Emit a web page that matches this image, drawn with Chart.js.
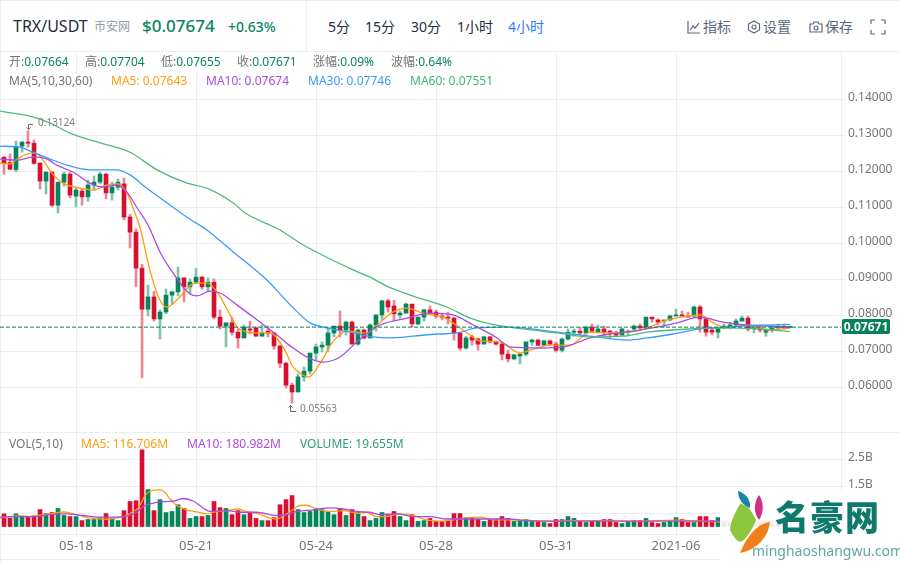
<!DOCTYPE html>
<html lang="zh">
<head>
<meta charset="utf-8">
<title>TRX/USDT</title>
<script src="https://cdn.jsdelivr.net/npm/chart.js@4/dist/chart.umd.js"></script>
<style>
    html, body { margin: 0; padding: 0; background: #fff; }
    body { width: 900px; height: 564px; position: relative; overflow: hidden; font-family: 'Noto Sans', 'Noto Sans CJK SC', sans-serif; font-size: 12px; }
    canvas { position: absolute; left: 0; z-index: 1; }
    .t { position: absolute; white-space: nowrap; line-height: 18px; height: 18px; z-index: 2; }
    .line { position: absolute; background: #ebeef4; }
    .gray { color: #757575; }
    .up { color: #0a8560; }
    .btn { font-size: 14px; color: #232f3e; top: 18px; }
    .tool { font-size: 14px; color: #5a6780; top: 18px; }
    svg.icon { position: absolute; z-index: 2; fill: none; stroke: #5a6780; stroke-width: 1.2; }
    #lastTag { position: absolute; left: 842px; top: 319px; width: 48px; height: 15px; line-height: 15px; background: #04805a; color: #fff; font-weight: 700; font-size: 12px; text-align: center; border-radius: 2px; z-index: 3; }
    #mark { position: absolute; left: 720px; top: 490px; width: 180px; height: 74px; background: rgba(255, 255, 255, 0.88); z-index: 4; }
    #mark .name { position: absolute; left: 55px; top: 6px; font-family: 'Noto Sans CJK SC', sans-serif; font-weight: 900; font-size: 34px; line-height: 40px; color: #0f7a6c; letter-spacing: 1px; }
    #mark .site { position: absolute; left: 32px; top: 52px; font-size: 14px; line-height: 18px; color: #5ea79f; }
</style>
</head>
<body>
<div class="line" style="left:0;top:0;width:900px;height:1px"></div>
<div class="line" style="left:0;top:0;width:1px;height:564px"></div>
<div class="line" style="left:306px;top:0;width:1px;height:51px"></div>
<div class="line" style="left:0;top:51px;width:900px;height:1px"></div>
<div class="line" style="left:0;top:432px;width:900px;height:1px"></div>
<div class="line" style="left:0;top:534px;width:842px;height:1px"></div>
<div class="line" style="left:0;top:559px;width:900px;height:1px"></div>

<!-- header -->
<span class="t" style="left:13px;top:17px;font-size:16px;color:#1f2d3d">TRX/USDT</span>
<span class="t" style="left:94px;top:18px;color:#8f9bab">币安网</span>
<span class="t" style="left:142px;top:17px;font-size:17px;font-weight:500;color:#0a8560">$0.07674</span>
<span class="t" style="left:228px;top:18px;font-size:14px;font-weight:500;color:#0a8560">+0.63%</span>
<span class="t btn" style="left:328px">5分</span>
<span class="t btn" style="left:365px">15分</span>
<span class="t btn" style="left:411px">30分</span>
<span class="t btn" style="left:457px">1小时</span>
<span class="t btn" style="left:508px;color:#2f7df6">4小时</span>
<svg class="icon" style="left:687px;top:20px" width="14" height="14"><path d="M1 1V13H13M3 10L6 6L8 8L12 3"/></svg>
<span class="t tool" style="left:703px">指标</span>
<svg class="icon" style="left:747px;top:20px" width="14" height="14"><path d="M7 1L12.5 4V10L7 13L1.5 10V4Z"/><circle cx="7" cy="7" r="2"/></svg>
<span class="t tool" style="left:763px">设置</span>
<svg class="icon" style="left:809px;top:20px" width="14" height="14"><path d="M1 4H4L5 2H9L10 4H13V12H1Z"/><circle cx="7" cy="8" r="2"/></svg>
<span class="t tool" style="left:825px">保存</span>
<svg class="icon" style="left:870px;top:19px" width="16" height="16"><path d="M1 5V1H5M11 1H15V5M15 11V15H11M5 15H1V11"/></svg>

<!-- info rows -->
<span class="t" style="left:9px;top:53px"><span class="gray">开:</span><span class="up">0.07664</span></span>
<span class="t" style="left:85px;top:53px"><span class="gray">高:</span><span class="up">0.07704</span></span>
<span class="t" style="left:161px;top:53px"><span class="gray">低:</span><span class="up">0.07655</span></span>
<span class="t" style="left:237px;top:53px"><span class="gray">收:</span><span class="up">0.07671</span></span>
<span class="t" style="left:313px;top:53px"><span class="gray">涨幅:</span><span class="up">0.09%</span></span>
<span class="t" style="left:391px;top:53px"><span class="gray">波幅:</span><span class="up">0.64%</span></span>
<span class="t gray" style="left:9px;top:72px">MA(5,10,30,60)</span>
<span class="t" style="left:111px;top:72px;color:#ff9b0f">MA5: 0.07643</span>
<span class="t" style="left:206px;top:72px;color:#a84be0">MA10: 0.07674</span>
<span class="t" style="left:308px;top:72px;color:#3a9bff">MA30: 0.07746</span>
<span class="t" style="left:410px;top:72px;color:#3fb871">MA60: 0.07551</span>
<span class="t gray" style="left:9px;top:435px">VOL(5,10)</span>
<span class="t" style="left:81px;top:435px;color:#ff9b0f">MA5: 116.706M</span>
<span class="t" style="left:187px;top:435px;color:#a84be0">MA10: 180.982M</span>
<span class="t" style="left:300px;top:435px;color:#2f9c78">VOLUME: 19.655M</span>

<div id="lastTag">0.07671</div>

<canvas id="priceChart" width="900" height="381" style="top:51px"></canvas>
<canvas id="volumeChart" width="900" height="126" style="top:433px"></canvas>

<!-- site watermark -->
<div id="mark">
    <svg width="60" height="70" style="position:absolute;left:6px;top:0">
        <path d="M14 14C8 24 4 34 4 40C8 48 10 50 14 52C20 50 26 40 30 30C26 22 22 14 14 14Z" fill="#8cc63f"/>
        <path d="M12 1C20 3 25 10 24 18C18 16 12 10 12 1Z" fill="#1d83a8"/>
        <path d="M33 5C38 12 38 22 33 30C27 22 28 12 33 5Z" fill="#d42d86"/>
        <path d="M44 32C30 34 20 48 14 63C30 60 42 48 44 32Z" fill="#ef7f1a"/>
    </svg>
    <span class="name">名豪网</span>
    <span class="site">minghaoshangwu.com</span>
</div>

<script>
// Candles, 4 hour bars, oldest first
const open = [
    .1239, .1224, .1205, .1270, .1281, .1278, .1223, .1173, .1198, .1106,
    .1170, .1192, .1131, .1145, .1129, .1162, .1170, .1192, .1140, .1156,
    .1165, .1073, .1031, .0931, .0817, .0851, .0790, .0809, .0856, .0865,
    .0904, .0879, .0892, .0906, .0879, .0892, .0795, .0770, .0779, .0753,
    .0737, .0762, .0765, .0742, .0756, .0751, .0715, .0667, .0606, .0587,
    .0629, .0645, .0695, .0712, .0717, .0751, .0770, .0759, .0781, .0720,
    .0759, .0737, .0773, .0801, .0840, .0826, .0801, .0806, .0831, .0776,
    .0795, .0815, .0809, .0798, .0795, .0792, .0751, .0709, .0740, .0734,
    .0720, .0740, .0726, .0720, .0692, .0679, .0687, .0692, .0726, .0731,
    .0717, .0729, .0720, .0703, .0734, .0753, .0756, .0751, .0767, .0753,
    .0762, .0756, .0751, .0745, .0753, .0762, .0770, .0765, .0795, .0787,
    .0784, .0787, .0798, .0801, .0798, .0798, .0823, .0790, .0759, .0753,
    .0765, .0770, .0773, .0784, .0792, .0762, .0765, .0753, .0759, .0765,
    .0767, .07664
];
const close = [
    .1224, .1206, .1267, .1281, .1278, .1222, .1173, .1198, .1106, .1170,
    .1192, .1134, .1148, .1129, .1162, .1170, .1192, .1140, .1156, .1170,
    .1073, .1031, .0931, .0817, .0851, .0790, .0809, .0856, .0865, .0904,
    .0879, .0892, .0906, .0879, .0892, .0795, .0770, .0779, .0753, .0737,
    .0767, .0759, .0742, .0751, .0751, .0715, .0667, .0606, .0587, .0629,
    .0645, .0695, .0712, .0717, .0751, .0770, .0759, .0781, .0720, .0759,
    .0737, .0773, .0801, .0840, .0823, .0804, .0806, .0831, .0776, .0795,
    .0815, .0806, .0798, .0795, .0792, .0751, .0709, .0737, .0731, .0720,
    .0740, .0726, .0720, .0692, .0679, .0690, .0692, .0726, .0731, .0717,
    .0729, .0720, .0703, .0734, .0753, .0756, .0751, .0767, .0756, .0762,
    .0753, .0751, .0745, .0762, .0756, .0770, .0765, .0795, .0790, .0781,
    .0787, .0798, .0801, .0798, .0795, .0823, .0790, .0753, .0753, .0765,
    .0770, .0773, .0784, .0792, .0762, .0765, .0759, .0759, .0765, .0767,
    .0766, .07671
];
const high = [
    .1241, .1248, .1284, .1283, .13124, .1287, .1223, .1198, .1198, .1170,
    .1198, .1198, .1153, .1153, .1176, .1187, .1198, .1195, .1170, .1179,
    .1181, .1081, .1040, .0942, .0884, .0867, .0815, .0873, .0867, .0934,
    .0904, .0901, .0931, .0909, .0904, .0901, .0815, .0779, .0795, .0762,
    .0773, .0784, .0767, .0773, .0770, .0753, .0715, .0670, .0612, .0637,
    .0656, .0695, .0720, .0726, .0767, .0770, .0812, .0784, .0784, .0762,
    .0762, .0776, .0801, .0842, .0845, .0842, .0812, .0834, .0831, .0795,
    .0817, .0826, .0815, .0806, .0809, .0795, .0751, .0742, .0745, .0737,
    .0742, .0742, .0729, .0723, .0703, .0692, .0695, .0726, .0734, .0734,
    .0731, .0731, .0726, .0737, .0762, .0762, .0767, .0770, .0776, .0773,
    .0770, .0759, .0756, .0765, .0759, .0773, .0776, .0795, .0795, .0790,
    .0787, .0801, .0817, .0812, .0809, .0826, .0828, .0790, .0765, .0765,
    .0776, .0781, .0790, .0798, .0798, .0770, .0773, .0762, .0767, .0776,
    .0776, .07704
];
const low = [
    .1192, .1204, .1198, .1253, .1267, .1220, .1151, .1137, .1101, .1084,
    .1159, .1126, .1101, .1106, .1117, .1148, .1165, .1123, .1120, .1148,
    .1065, .0987, .0879, .0626, .0798, .0784, .0734, .0804, .0831, .0854,
    .0837, .0859, .0892, .0873, .0867, .0790, .0762, .0712, .0745, .0709,
    .0737, .0748, .0742, .0742, .0740, .0706, .0654, .0598, .05563, .0587,
    .0617, .0637, .0676, .0698, .0698, .0740, .0740, .0745, .0720, .0717,
    .0734, .0737, .0756, .0787, .0809, .0787, .0792, .0806, .0767, .0773,
    .0784, .0804, .0792, .0787, .0776, .0731, .0703, .0706, .0717, .0703,
    .0720, .0723, .0717, .0676, .0670, .0676, .0665, .0687, .0717, .0715,
    .0715, .0717, .0698, .0698, .0731, .0742, .0745, .0748, .0753, .0751,
    .0745, .0737, .0742, .0745, .0745, .0759, .0759, .0762, .0781, .0773,
    .0767, .0784, .0798, .0798, .0795, .0795, .0753, .0742, .0745, .0737,
    .0762, .0762, .0770, .0784, .0756, .0751, .0753, .0742, .0753, .0762,
    .0762, .07655
];
// Volume in billions
const volume = [
    .47, .31, .47, .36, .36, .40, .63, .48, .52, .67,
    .41, .37, .37, .22, .26, .26, .33, .48, .31, .22,
    .59, .93, .96, 2.85, 1.37, .59, 1.0, .52, .56, .81,
    .67, .30, .37, .37, .41, .93, .70, .67, .44, .59,
    .44, .52, .30, .22, .22, .33, .81, 1.0, 1.15, .63,
    .52, .56, .67, .63, .56, .44, .67, .41, .63, .52,
    .37, .22, .30, .52, .41, .56, .37, .22, .44, .19,
    .22, .30, .19, .19, .22, .48, .48, .33, .30, .26,
    .19, .26, .26, .37, .30, .19, .22, .26, .19, .19,
    .15, .11, .26, .26, .37, .30, .19, .15, .22, .22,
    .26, .26, .15, .11, .19, .22, .22, .30, .15, .11,
    .15, .19, .33, .26, .15, .15, .37, .37, .22, .33,
    .19, .15, .19, .15, .22, .15, .15, .19, .11, .15,
    .10, .02
];

// Moving averages: candle number and value
const ma5At = [-.67, 1, 2.2, 3.8, 5.2, 6.5, 8.2, 9.8, 12.7, 14.8, 17.2, 19, 20.5, 21.5, 22.7, 24.3, 26, 27.2, 29.3, 31.5, 33.8, 35.5, 37.7, 39, 42.2, 44.3, 46.5, 48.2, 49.3, 50.7, 52.7, 54.8, 57.2, 60.5, 62.7, 64.8, 67.2, 69.8, 73.2, 74.8, 77.2, 79.3, 82.7, 86, 87.7, 91, 94.3, 97.7, 101, 104.3, 107.2, 110.5, 114.3, 116, 118.2, 120.5, 123.8, 127.7, 131];
const ma5 = [.1223, .1220, .1234, .1248, .1251, .1231, .1190, .1167, .1153, .1148, .1162, .1165, .1140, .1098, .1042, .0926, .0842, .0823, .0851, .0887, .0890, .0865, .0801, .0765, .0751, .0751, .0712, .0656, .0640, .0628, .0667, .0726, .0756, .0751, .0781, .0809, .0820, .0806, .0795, .0779, .0751, .0729, .0726, .0695, .0703, .0717, .0717, .0753, .0751, .0753, .0765, .0787, .0798, .0801, .0779, .0765, .0773, .0759, .07643];
const ma10At = [-.67, 2.2, 4.8, 7.2, 8.8, 11.5, 14.3, 16.5, 18.8, 20.5, 22.2, 24, 26, 28.2, 31, 32.2, 34.3, 36, 38.8, 42.2, 45.5, 47.7, 50.5, 53.2, 56, 58.8, 62.7, 67.2, 71, 74.8, 78.2, 82.2, 84.3, 89.3, 93.2, 97.7, 101, 104.8, 108.8, 112.2, 116, 119.8, 123.8, 131];
const ma10 = [.1234, .1231, .1240, .1234, .1217, .1198, .1167, .1156, .1162, .1142, .1098, .1051, .0976, .0917, .0859, .0854, .0867, .0862, .0829, .0787, .0745, .0715, .0684, .0670, .0684, .0726, .0773, .0792, .0806, .0801, .0773, .0737, .0712, .0709, .0712, .0737, .0748, .0756, .0767, .0779, .0795, .0781, .0773, .07674];
const ma30At = [-.67, 2.67, 4.8, 7.7, 10.5, 14.3, 18.8, 21, 23.8, 27.2, 31, 33.8, 38.2, 43.8, 47.7, 51, 53.2, 57.7, 61.5, 64.3, 68.2, 72.2, 75.5, 78.8, 83.2, 86.5, 92.2, 97.7, 103.8, 107.2, 111.5, 116, 118.8, 122.7, 131];
const ma30 = [.1270, .1267, .1253, .1234, .1217, .1204, .1204, .1190, .1153, .1112, .1067, .1037, .0976, .0898, .0829, .0779, .0767, .0753, .0740, .0737, .0742, .0748, .0751, .0765, .0767, .0765, .0753, .0742, .0731, .0737, .0748, .0762, .0765, .0770, .07746];
const ma60At = [-.67, 4.8, 7.7, 11, 16, 21, 25.5, 30.5, 33.8, 38.2, 40.2, 46, 49.3, 58.2, 61, 63.8, 67.7, 73.8, 77.7, 81, 86.5, 92.2, 97.7, 103.2, 107.2, 114.3, 119.8, 125.5, 131];
const ma60 = [.1367, .1351, .1334, .1306, .1279, .1253, .1204, .1167, .1153, .1112, .1084, .1037, .1001, .0926, .0906, .0881, .0856, .0823, .0792, .0776, .0762, .0751, .0740, .0742, .0753, .0762, .0765, .0762, .07551];

const volMa5At = [-.67, 1, 2.67, 4.33, 6, 7.67, 9.9, 11.6, 13.2, 14.9, 17.1, 18.8, 20, 21.3, 22.4, 23.5, 24.3, 26, 26.8, 27.7, 28.8, 30.4, 32.1, 33.8, 34.9, 37.1, 39.1, 40.2, 42.1, 44.3, 45.4, 47.1, 48.5, 49.3, 50.4, 52.1, 54.3, 56.6, 58.8, 60.4, 62.1, 63.8, 66, 68.2, 70.4, 72.7, 74.9, 77.1, 79.3, 81.6, 84.9, 88.2, 91.6, 94.9, 99.3, 105, 112, 118, 125, 131];
const volMa5 = [.32, .37, .40, .37, .42, .47, .54, .47, .37, .30, .27, .32, .37, .53, .69, 1.15, 1.31, 1.36, 1.27, 1.02, .78, .62, .54, .47, .53, .59, .65, .56, .49, .31, .28, .47, .69, .78, .79, .65, .56, .59, .49, .53, .37, .37, .47, .41, .25, .20, .25, .33, .35, .25, .25, .22, .20, .22, .22, .20, .24, .18, .15, .117];
const volMa10At = [-.67, 2.1, 4.9, 7.7, 10.4, 13.2, 16, 18.8, 21, 22.1, 23.2, 25.4, 28.2, 29.9, 31.6, 33.2, 34.3, 37.1, 39.3, 42.1, 45.4, 47.1, 48.8, 51.6, 54.3, 56.6, 58.8, 61, 62.7, 65.4, 68.2, 71, 73.8, 77.1, 80.4, 83.8, 87.1, 91.6, 99.3, 110, 120, 131];
const volMa10 = [.35, .37, .37, .44, .47, .41, .35, .35, .41, .53, .74, .90, .94, 1.04, .94, .69, .56, .59, .53, .53, .41, .44, .56, .62, .69, .65, .56, .53, .44, .47, .37, .37, .28, .28, .28, .28, .22, .20, .20, .20, .20, .181];

// Axis labels
const priceTicks = [0.14, 0.13, 0.12, 0.11, 0.10, 0.09, 0.08, 0.07, 0.06];
const volumeTicks = [0.5, 1.5, 2.5];
const dateTickAt = [12, 32, 52, 72, 92, 112];
const dateTicks = ['05-18', '05-21', '05-24', '05-28', '05-31', '2021-06'];

const UP = '#04855a';
const DOWN = '#d8102f';
const UP_WICK = '#82c2ac';
const DOWN_WICK = '#ea8796';
const GRID = '#ebeef4';
const TICK_TEXT = '#757575';
const FONT = "'Noto Sans', 'Noto Sans CJK SC', sans-serif";

// x range so that candle 0 sits 4px in and the axis starts at 841px
const X_MIN = -0.67;
const X_MAX = 139.5;

const isUp = close.map((c, i) => c >= open[i]);
const bodyColors = isUp.map(u => u ? UP : DOWN);
const wickColors = isUp.map(u => u ? UP_WICK : DOWN_WICK);

function maLine(xs, ys, color) {
    return {
        type: 'line',
        data: xs.map((x, i) => ({ x: x, y: ys[i] })),
        borderColor: color,
        borderWidth: 1.3,
        pointRadius: 0,
        cubicInterpolationMode: 'monotone',
        order: 1
    };
}

function dateAxis(showLabels) {
    return {
        type: 'linear',
        offset: false,
        min: X_MIN,
        max: X_MAX,
        afterBuildTicks: scale => { scale.ticks = dateTickAt.map(v => ({ value: v })); },
        grid: { color: GRID, offset: false, drawTicks: showLabels, tickLength: 3 },
        border: { display: false },
        ticks: {
            display: showLabels,
            autoSkip: false,
            maxRotation: 0,
            padding: 1,
            color: TICK_TEXT,
            font: { family: FONT, size: 13 },
            callback: value => dateTicks[dateTickAt.indexOf(value)]
        },
        afterFit: scale => {
            scale.height = showLabels ? 25 : 0;
            scale.paddingLeft = 0;
            scale.paddingRight = 0;
        }
    };
}

function sideAxis(min, max, tickValues, format) {
    return {
        position: 'right',
        min: min,
        max: max,
        afterBuildTicks: scale => { scale.ticks = tickValues.map(v => ({ value: v })); },
        grid: { color: GRID, tickLength: 4 },
        border: { color: GRID },
        ticks: {
            padding: 3,
            labelOffset: -2,
            color: TICK_TEXT,
            font: { family: FONT, size: 12 },
            callback: format
        },
        afterFit: scale => {
            // the pane fills its canvas, no room held back for half a label
            scale.width = 59;
            scale.paddingTop = 0;
            scale.paddingBottom = 0;
        }
    };
}

// Small arrows and labels at the highest and lowest price
const extremeLabels = {
    id: 'extremeLabels',
    afterDatasetsDraw(chart) {
        const { ctx, scales } = chart;
        const top = high.indexOf(Math.max(...high));
        const bottom = low.indexOf(Math.min(...low));
        const tx = scales.x.getPixelForValue(top);
        const ty = scales.y.getPixelForValue(high[top]);
        const bx = scales.x.getPixelForValue(bottom);
        const by = scales.y.getPixelForValue(low[bottom]);

        ctx.save();
        ctx.strokeStyle = '#666';
        ctx.lineWidth = 1;
        ctx.beginPath();
        ctx.moveTo(tx + 5, ty - 6.5);
        ctx.lineTo(tx + 0.5, ty - 6.5);
        ctx.lineTo(tx + 0.5, ty - 1.5);
        ctx.moveTo(tx - 1.5, ty - 3.5);
        ctx.lineTo(tx + 0.5, ty - 1.5);
        ctx.lineTo(tx + 2.5, ty - 3.5);
        ctx.moveTo(bx + 4, by + 8.5);
        ctx.lineTo(bx - 1.5, by + 8.5);
        ctx.lineTo(bx - 1.5, by + 2.5);
        ctx.moveTo(bx - 3.5, by + 4.5);
        ctx.lineTo(bx - 1.5, by + 2.5);
        ctx.lineTo(bx + 0.5, by + 4.5);
        ctx.stroke();

        ctx.fillStyle = '#808080';
        ctx.font = '10px ' + FONT;
        ctx.textBaseline = 'middle';
        ctx.fillText(high[top].toFixed(5), tx + 10, ty - 8);
        ctx.fillText(low[bottom].toFixed(5), bx + 8, by + 6);
        ctx.restore();
    }
};

const baseOptions = {
    responsive: false,
    animation: false,
    devicePixelRatio: 1,
    layout: { padding: 0, autoPadding: false },
    plugins: { legend: { display: false }, tooltip: { enabled: false } }
};

// Price pane
new Chart(document.getElementById('priceChart'), {
    type: 'bar',
    data: {
        datasets: [
            {
                data: high.map((h, i) => ({ x: i, y: [low[i], h] })),
                backgroundColor: wickColors,
                barThickness: 2,
                grouped: false,
                order: 4
            },
            {
                data: open.map((o, i) => ({ x: i, y: [o, close[i]] })),
                backgroundColor: bodyColors,
                barThickness: 4,
                minBarLength: 1,
                grouped: false,
                order: 3
            },
            maLine(ma60At, ma60, '#4dbb78'),
            maLine(ma30At, ma30, '#3a9bff'),
            maLine(ma10At, ma10, '#a84be0'),
            maLine(ma5At, ma5, '#ff9b0f'),
            {
                type: 'line',
                data: [{ x: X_MIN, y: close[close.length - 1] }, { x: X_MAX, y: close[close.length - 1] }],
                borderColor: '#04805a',
                borderWidth: 1,
                borderDash: [4, 2],
                pointRadius: 0,
                order: 0
            }
        ]
    },
    options: {
        ...baseOptions,
        scales: {
            x: dateAxis(false),
            y: sideAxis(0.04758, 0.15342, priceTicks, value => value.toFixed(5))
        }
    },
    plugins: [extremeLabels]
});

// Volume pane
new Chart(document.getElementById('volumeChart'), {
    type: 'bar',
    data: {
        datasets: [
            {
                data: volume.map((v, i) => ({ x: i, y: v })),
                backgroundColor: bodyColors,
                barThickness: 4,
                grouped: false,
                order: 3
            },
            maLine(volMa10At, volMa10, '#a84be0'),
            maLine(volMa5At, volMa5, '#ff9b0f')
        ]
    },
    options: {
        ...baseOptions,
        scales: {
            x: dateAxis(true),
            y: sideAxis(-0.278, 3.474, volumeTicks, value => value.toFixed(1) + 'B')
        }
    }
});
</script>
</body>
</html>
